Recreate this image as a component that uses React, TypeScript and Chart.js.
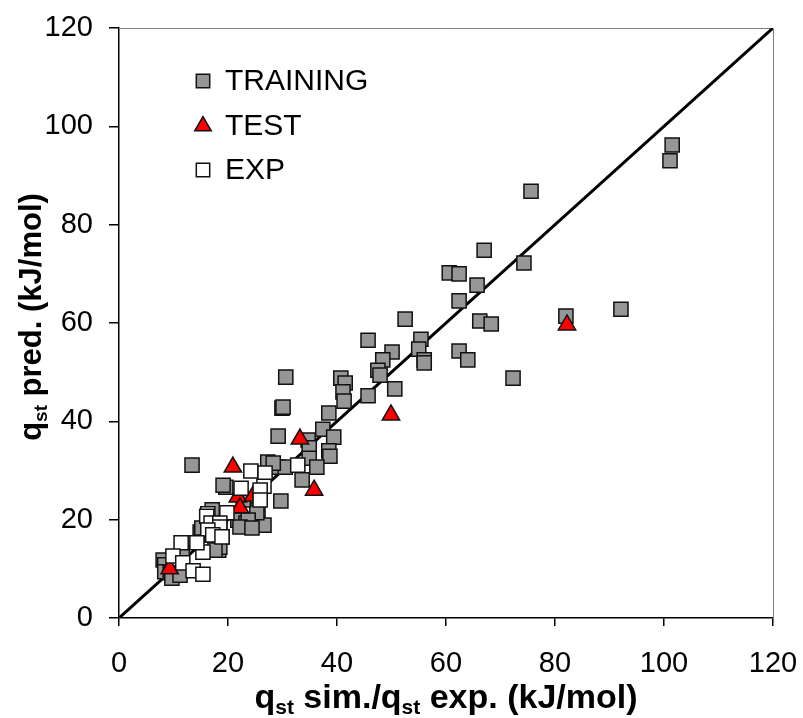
import React, { useEffect, useRef } from 'react';
import { Chart, registerables } from 'chart.js';

Chart.register(...registerables);

// ---------- data ----------
const trainingX = [101.5, 101.1, 75.6, 67.0, 74.3, 60.6, 62.4, 65.7, 62.4, 52.5, 66.2, 68.3, 82.0, 92.1, 55.4, 55.0, 56.0, 56.0, 62.4, 64.0, 72.3, 50.6, 45.7, 50.1, 48.4, 47.5, 47.9, 45.7, 30.6, 40.7, 41.5, 41.1, 41.3, 29.9, 30.1, 38.5, 37.4, 39.4, 29.2, 38.5, 38.7, 34.7, 34.9, 34.9, 36.3, 33.6, 29.7, 27.3, 29.2, 30.5, 13.4, 26.6, 28.3, 19.6, 19.1, 25.5, 25.3, 21.8, 23.3, 23.7, 22.2, 24.4, 22.8, 17.1, 18.9, 18.3, 18.5, 17.6, 15.0, 14.9, 15.2, 8.1, 8.4, 8.4, 9.4, 9.7, 11.2, 11.6];
const trainingY = [96.2, 93.0, 86.8, 74.8, 72.2, 70.2, 70.0, 67.7, 64.5, 60.8, 60.4, 59.8, 61.4, 62.8, 56.7, 54.7, 52.5, 51.9, 54.3, 52.5, 48.8, 46.6, 56.5, 54.1, 52.5, 50.4, 49.4, 45.2, 49.0, 48.8, 47.8, 46.0, 44.1, 42.7, 42.9, 41.7, 38.4, 36.8, 37.0, 34.0, 32.9, 36.2, 34.6, 32.5, 30.7, 28.1, 23.8, 31.7, 30.7, 30.7, 31.1, 18.9, 31.5, 26.6, 27.0, 22.0, 21.4, 19.9, 19.3, 19.9, 18.5, 18.3, 24.0, 22.0, 16.5, 13.8, 14.4, 13.8, 16.9, 17.5, 18.3, 11.8, 10.8, 9.4, 9.2, 8.1, 8.7, 13.2];

const testX = [82.2, 33.2, 49.9, 35.8, 20.9, 21.8, 24.6, 22.2, 16.0, 9.3];
const testY = [59.6, 36.4, 41.3, 26.0, 30.7, 24.6, 24.8, 22.4, 16.9, 10.0];

const expX = [32.8, 24.2, 26.8, 22.4, 26.6, 25.9, 25.9, 19.8, 16.3, 16.1, 16.9, 18.5, 18.5, 16.3, 17.2, 18.9, 15.4, 14.3, 11.4, 9.9, 11.7, 13.6, 15.4];
const expY = [31.1, 29.9, 29.5, 26.4, 26.8, 26.0, 24.0, 21.4, 21.2, 20.7, 19.3, 19.3, 18.5, 17.9, 16.9, 16.5, 13.4, 15.3, 15.3, 12.6, 11.2, 9.6, 8.9];

const identityX = [0, 120];
const identityY = [0, 120];

const axisMin = 0;
const axisMax = 120;
const axisStep = 20;

const seriesNames = ['TRAINING', 'TEST', 'EXP'];
const xTitleParts = [
  { t: 'q' },
  { t: 'st', sub: true },
  { t: ' sim./q' },
  { t: 'st', sub: true },
  { t: ' exp. (kJ/mol)' },
];
const yTitleParts = [
  { t: 'q' },
  { t: 'st', sub: true },
  { t: ' pred. (kJ/mol)' },
];

const FONT = '"Liberation Sans", Arial, Helvetica, sans-serif';

const toPts = (xs: number[], ys: number[]) => xs.map((x, i) => ({ x, y: ys[i] }));

type Part = { t: string; sub?: boolean };

function drawRich(ctx: CanvasRenderingContext2D, parts: Part[], cx: number, baseY: number, size: number, subSize: number, subShift: number) {
  const main = `bold ${size}px ${FONT}`;
  const sub = `bold ${subSize}px ${FONT}`;
  let total = 0;
  const widths = parts.map((p) => {
    ctx.font = p.sub ? sub : main;
    const w = ctx.measureText(p.t).width;
    total += w;
    return w;
  });
  let x = cx - total / 2;
  ctx.textAlign = 'left';
  ctx.textBaseline = 'alphabetic';
  parts.forEach((p, i) => {
    ctx.font = p.sub ? sub : main;
    ctx.fillText(p.t, x, baseY + (p.sub ? subShift : 0));
    x += widths[i];
  });
}

const MARKER_R = 10;

const decorPlugin = {
  id: 'decor',
  beforeDatasetsDraw(chart: any) {
    const { ctx, chartArea } = chart;
    ctx.save();
    ctx.strokeStyle = '#808080';
    ctx.lineWidth = 1;
    ctx.beginPath();
    ctx.moveTo(chartArea.left, chartArea.top + 0.5);
    ctx.lineTo(chartArea.right + 0.5, chartArea.top + 0.5);
    ctx.lineTo(chartArea.right + 0.5, chartArea.bottom);
    ctx.stroke();
    ctx.restore();
  },
  afterDraw(chart: any) {
    const { ctx, chartArea } = chart;
    ctx.save();
    ctx.fillStyle = '#000';
    // x title
    drawRich(ctx, xTitleParts, (chartArea.left + chartArea.right) / 2, 708, 34, 21, 6);
    // y title
    ctx.translate(41, (chartArea.top + chartArea.bottom) / 2 - 6);
    ctx.rotate(-Math.PI / 2);
    drawRich(ctx, yTitleParts, 0, 0, 31, 19, 6);
    ctx.restore();

    // legend
    ctx.save();
    const rows = [81, 126, 170];
    const mx = 203;
    chart.data.datasets.slice(0, 3).forEach((ds: any, i: number) => {
      const y = rows[i];
      ctx.fillStyle = ds.backgroundColor;
      ctx.strokeStyle = ds.borderColor;
      ctx.lineWidth = 1.5;
      ctx.beginPath();
      if (ds.pointStyle === 'triangle') {
        const r = 9.5;
        ctx.moveTo(mx, y - r);
        ctx.lineTo(mx + r * Math.sin((2 * Math.PI) / 3), y - r * Math.cos((2 * Math.PI) / 3));
        ctx.lineTo(mx + r * Math.sin((4 * Math.PI) / 3), y - r * Math.cos((4 * Math.PI) / 3));
        ctx.closePath();
      } else {
        const h = 6.7;
        ctx.rect(mx - h, y - h, 2 * h, 2 * h);
      }
      ctx.fill();
      ctx.stroke();
      ctx.fillStyle = '#000';
      ctx.font = `30px ${FONT}`;
      ctx.textAlign = 'left';
      ctx.textBaseline = 'middle';
      ctx.fillText(seriesNames[i], 225, y + 1);
    });
    ctx.restore();
  },
};

const zeroPad = (s: any) => {
  s.paddingLeft = 0;
  s.paddingRight = 0;
  s.paddingTop = 0;
  s.paddingBottom = 0;
};

export default function App() {
  const ref = useRef<HTMLCanvasElement>(null);
  useEffect(() => {
    document.body.style.margin = '0';
    const canvas = ref.current!;
    const chart = new Chart(canvas, {
      type: 'scatter',
      data: {
        datasets: [
          {
            label: seriesNames[0],
            data: toPts(trainingX, trainingY),
            pointStyle: 'rect',
            pointRadius: MARKER_R,
            backgroundColor: '#969696',
            borderColor: '#111111',
            borderWidth: 1.5,
            order: 3,
          },
          {
            label: seriesNames[1],
            data: toPts(testX, testY),
            pointStyle: 'triangle',
            pointRadius: MARKER_R,
            backgroundColor: '#ff0000',
            borderColor: '#111111',
            borderWidth: 1.5,
            order: 2,
          },
          {
            label: seriesNames[2],
            data: toPts(expX, expY),
            pointStyle: 'rect',
            pointRadius: MARKER_R,
            backgroundColor: '#ffffff',
            borderColor: '#111111',
            borderWidth: 1.5,
            order: 1,
          },
          {
            label: 'identity',
            data: toPts(identityX, identityY),
            showLine: true,
            pointRadius: 0,
            borderColor: '#000000',
            borderWidth: 3,
            order: 4,
          } as any,
        ],
      },
      options: {
        animation: false,
        responsive: false,
        events: [],
        layout: { padding: { top: 28, right: 30, left: 0, bottom: 0 } },
        plugins: { legend: { display: false }, tooltip: { enabled: false } },
        scales: {
          x: {
            type: 'linear',
            min: axisMin,
            max: axisMax,
            ticks: { stepSize: axisStep, color: '#000', font: { family: FONT, size: 29 }, padding: 21, maxRotation: 0 },
            grid: { drawOnChartArea: false, drawTicks: true, tickLength: 8, color: '#000', lineWidth: 1.5 },
            border: { display: true, color: '#000', width: 1.5 },
            afterFit: (s: any) => { s.height = 100; zeroPad(s); },
          },
          y: {
            type: 'linear',
            min: axisMin,
            max: axisMax,
            ticks: { stepSize: axisStep, color: '#000', font: { family: FONT, size: 29 }, padding: 16 },
            grid: { drawOnChartArea: false, drawTicks: true, tickLength: 10, color: '#000', lineWidth: 1.5 },
            border: { display: true, color: '#000', width: 1.5 },
            afterFit: (s: any) => { s.width = 119; zeroPad(s); },
          },
        },
      },
      plugins: [decorPlugin],
    });
    return () => chart.destroy();
  }, []);
  return (
    <div style={{ width: 803, height: 718 }}>
      <canvas ref={ref} width={803} height={718} style={{ display: 'block', width: 803, height: 718 }} />
    </div>
  );
}
